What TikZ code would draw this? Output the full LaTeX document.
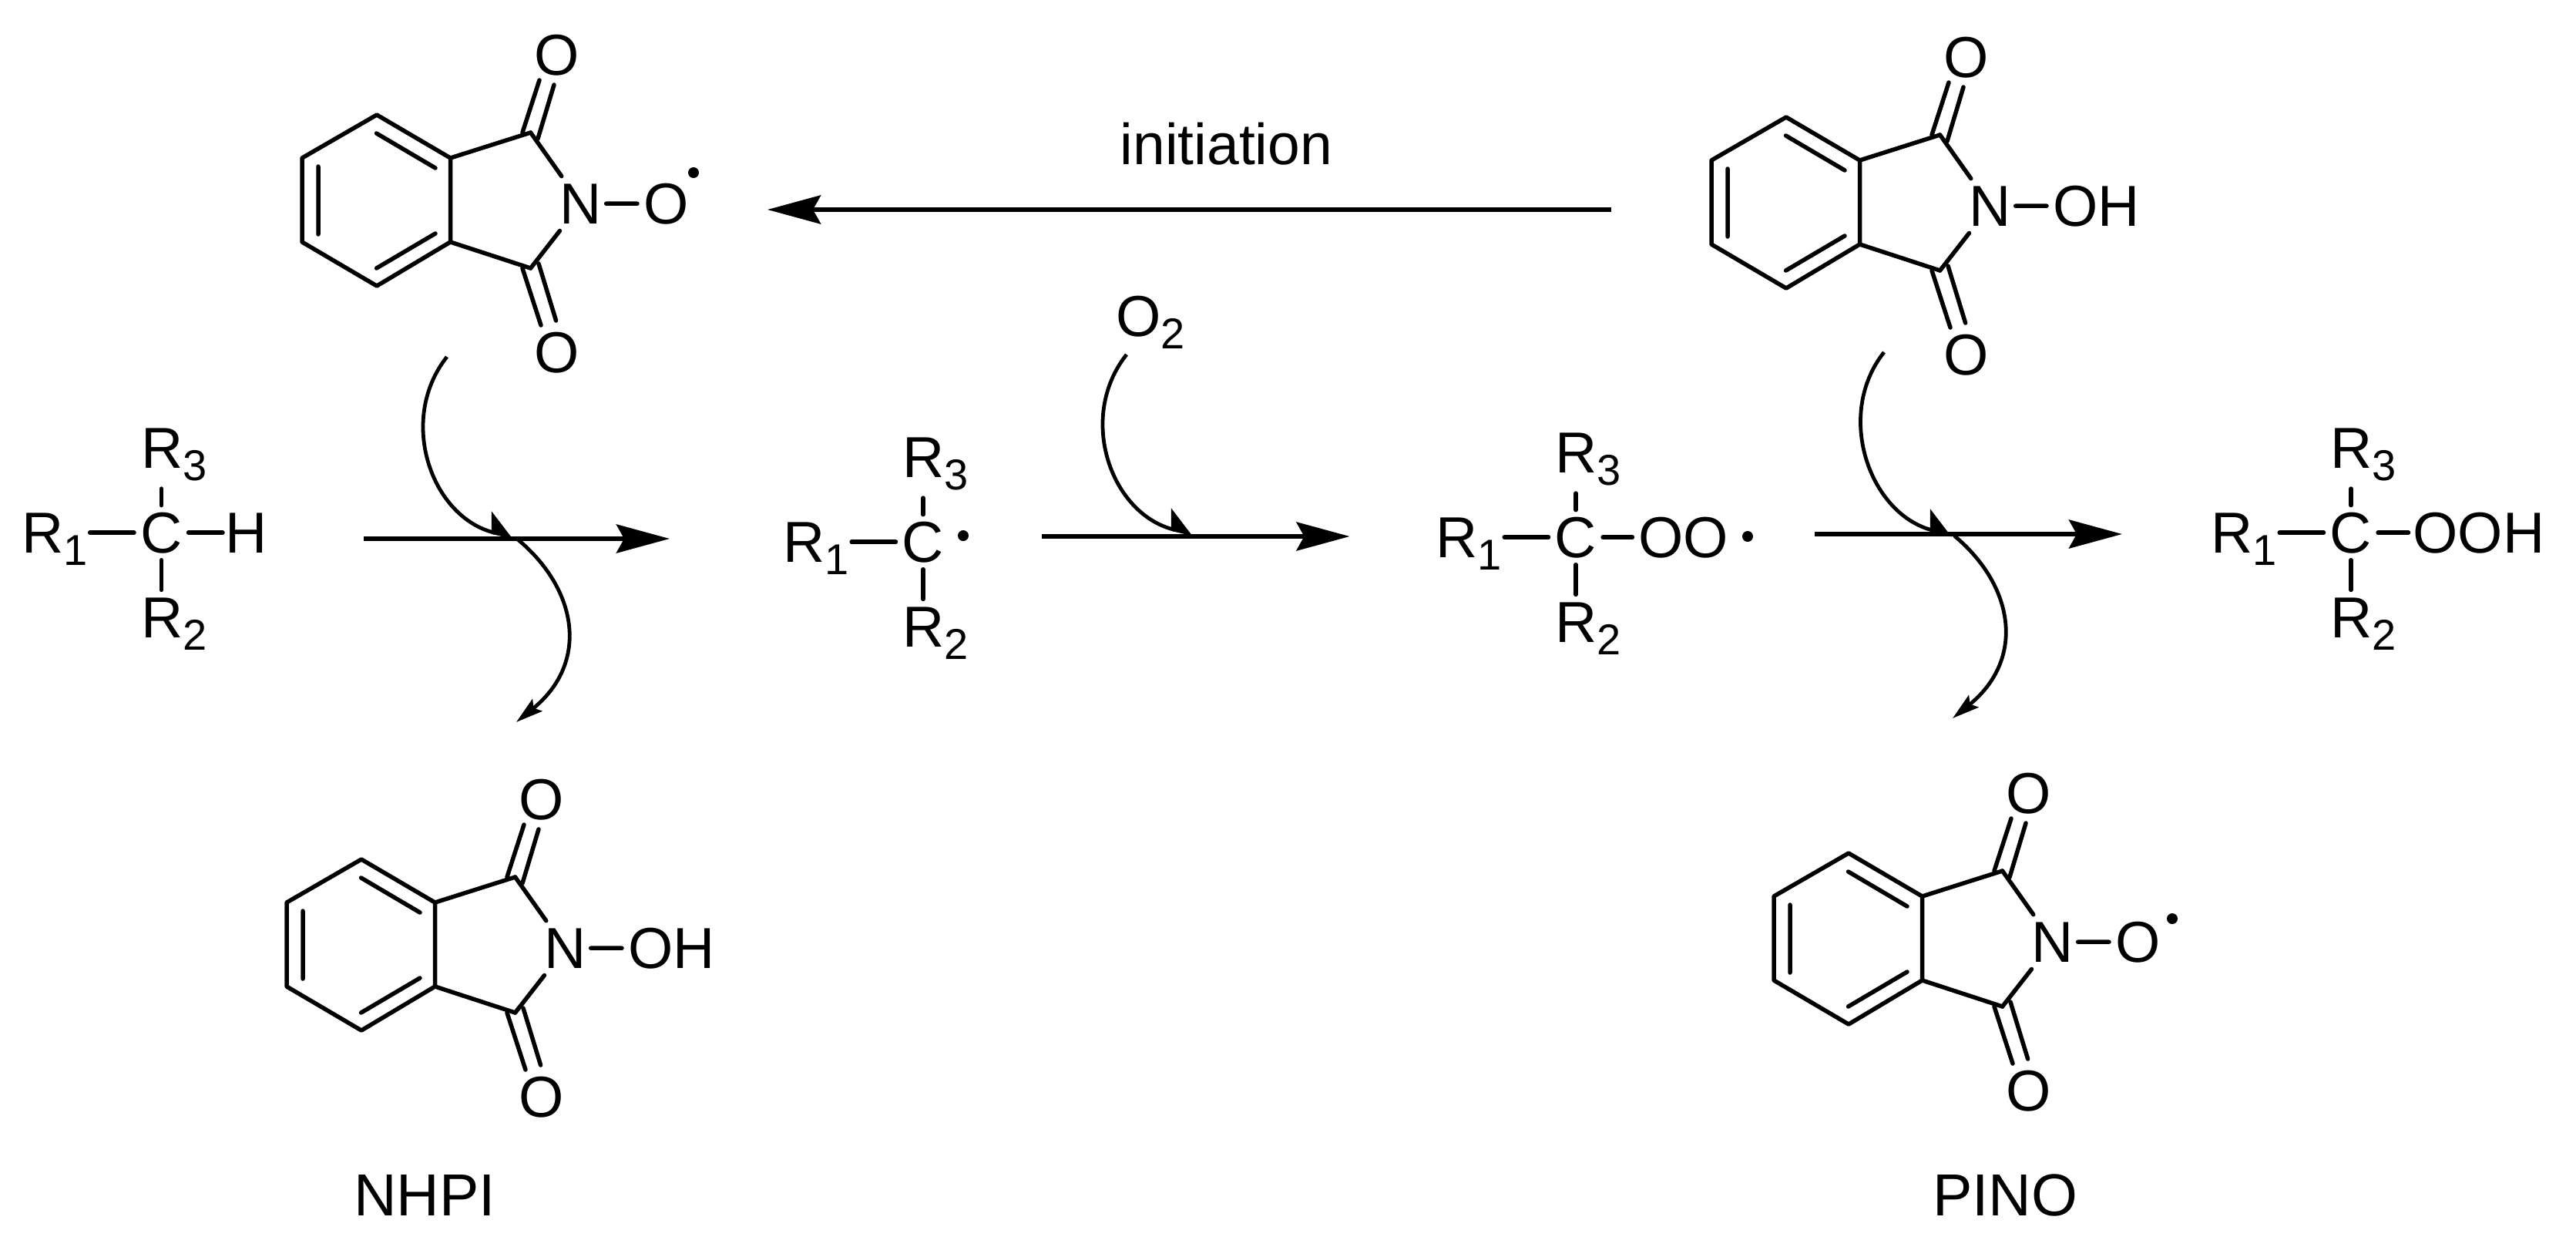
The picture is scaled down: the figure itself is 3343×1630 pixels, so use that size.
\documentclass[tikz,border=0pt]{standalone}
\usepackage{fontspec}
\setmainfont{Liberation Sans}
\usetikzlibrary{arrows.meta}
\newcommand{\lowsub}[1]{{\fontsize{28}{30}\selectfont\raisebox{-8.25pt}{#1}}}
\tikzset{
  x=0.5pt,y=-0.5pt,
  bond/.style={line width=2.75pt,line cap=round,line join=round},
  atom/.style={inner sep=0pt,outer sep=0pt,font=\fontsize{37.5}{40}\selectfont},
  caption/.style={inner sep=0pt,outer sep=0pt,font=\fontsize{38.5}{40}\selectfont},
  rdot/.style={circle,fill=black,inner sep=0pt,minimum size=7pt},
  reaction/.style={line width=3pt,-{Stealth[length=34.5pt,width=18.5pt,inset=5pt]}},
  halfin/.style={line width=2.4pt,-{Stealth[harpoon,length=16pt,width=26pt,inset=3pt]}},
  fullout/.style={line width=2.4pt,-{Stealth[length=17.5pt,width=10pt,inset=3pt]}},
  imide/.pic={
    \coordinate (v1) at (489,149);
    \coordinate (v2) at (392,205);
    \coordinate (v3) at (392,314);
    \coordinate (v4) at (489,371);
    \coordinate (v5) at (584.5,314);
    \coordinate (v6) at (584.5,205);
    \coordinate (cu) at (688.6,172);
    \coordinate (cl) at (688.6,348);
    \coordinate (i1a) at (488.6,173); \coordinate (i1b) at (565,218);
    \coordinate (i2a) at (413,216);   \coordinate (i2b) at (413,304);
    \coordinate (i3a) at (488.6,348); \coordinate (i3b) at (565,303);
    \coordinate (u1a) at (678,172);   \coordinate (u1b) at (700,104);
    \coordinate (u2a) at (698,180);   \coordinate (u2b) at (719,110);
    \coordinate (l1a) at (678,348);   \coordinate (l1b) at (702,422);
    \coordinate (l2a) at (699,342);   \coordinate (l2b) at (721.6,416);
    \node[atom,anchor=base] (n) at (754,290) {N};
    \node[atom,anchor=base] (ot) at (722.4,97) {O};
    \node[atom,anchor=base] (ob) at (722.4,483) {O};
    \draw[bond] (v1)--(v2)--(v3)--(v4)--(v5)--(v6)--cycle;
    \draw[bond] (v6)--(cu) (v5)--(cl);
    \draw[bond] (i1a)--(i1b) (i2a)--(i2b) (i3a)--(i3b);
    \draw[bond] (u1a)--(u1b) (u2a)--(u2b) (l1a)--(l1b) (l2a)--(l2b);
    \draw[bond,shorten >=6pt] (cu)--(n);
    \draw[bond,shorten >=6pt] (cl)--(n);
  },
  rcore/.pic={
    \node[atom,anchor=base] (c) at (0,0) {C};
    \node[atom,anchor=base west] (r1) at (-181.5,0) {R\lowsub{1}};
    \node[atom,anchor=base west] (r3) at (-26.5,-110) {R\lowsub{3}};
    \node[atom,anchor=base west] (r2) at (-26.5,110) {R\lowsub{2}};
    \draw[bond,yshift=1pt,shorten <=1.7pt,shorten >=4.2pt] (r1.east |- c.west) -- (c.west);
    \draw[bond,shorten <=4.5pt,shorten >=5pt] (c.north) -- (c.north |- r3.south);
    \draw[bond,shorten <=4.5pt,shorten >=5pt] (c.south) -- (c.south |- r2.north);
  }
}
\begin{document}
\begin{tikzpicture}
\fill[white] (0,0) rectangle (3343,1630);
\useasboundingbox (0,0) rectangle (3343,1630);

% imide molecules
\pic (ma-) at (0,0) {imide};
\node[atom,anchor=base west] (ma-o) at (835,290) {O};
\node[rdot] (ma-d) at (900,224) {};
\draw[bond,yshift=1.5pt,shorten <=2.8pt,shorten >=4pt] (ma-n.east) -- (ma-o.west);

\pic (mb-) at (1829,3) {imide};
\node[atom,anchor=base west] (mb-o) at (2664,293) {OH};
\draw[bond,yshift=1.5pt,shorten <=2.8pt,shorten >=4pt] (mb-n.east) -- (mb-o.west);

\pic (mc-) at (-20,966) {imide};
\node[atom,anchor=base west] (mc-o) at (815,1256) {OH};
\draw[bond,yshift=1.5pt,shorten <=2.8pt,shorten >=4pt] (mc-n.east) -- (mc-o.west);

\pic (md-) at (1910,958) {imide};
\node[atom,anchor=base west] (md-o) at (2745,1248) {O};
\node[rdot] (md-d) at (2819,1192) {};
\draw[bond,yshift=1.5pt,shorten <=2.8pt,shorten >=4pt] (md-n.east) -- (md-o.west);

% R3C fragments
\pic (fa-) at (209.5,717) {rcore};
\node[atom,anchor=base west] (fa-h) at (292,717) {H};
\draw[bond,yshift=1pt,shorten <=4pt,shorten >=1.5pt] (fa-c.east) -- (fa-c.east -| fa-h.west);

\pic (fb-) at (1198,729) {rcore};
\node[rdot] (fb-d) at (1250,695) {};

\pic (fc-) at (2045,723) {rcore};
\node[atom,anchor=base west] (fc-o) at (2126.4,723) {OO};
\node[rdot] (fc-d) at (2268,696) {};
\draw[bond,yshift=1pt,shorten <=4pt,shorten >=4pt] (fc-c.east) -- (fc-c.east -| fc-o.west);

\pic (fd-) at (3051,717) {rcore};
\node[atom,anchor=base west] (fd-o) at (3131.5,717) {OOH};
\draw[bond,yshift=1pt,shorten <=4pt,shorten >=3pt] (fd-c.east) -- (fd-c.east -| fd-o.west);

% labels
\node[atom,anchor=base] (init) at (1591.5,213) {initiation};
\node[atom,anchor=base west] (o2) at (1448,436) {O\lowsub{2}};
\node[caption,anchor=base west] (nhpi) at (459,1577) {NHPI};
\node[caption,anchor=base west] (pino) at (2508,1577) {PINO};

% free ends of arrows
\coordinate (i0) at (2091,272);  \coordinate (i1) at (996,272);
\coordinate (a0) at (472,699);   \coordinate (a1) at (869,699);
\coordinate (b0) at (1352,696);  \coordinate (b1) at (1751.5,696);
\coordinate (c0) at (2355,693);  \coordinate (c1) at (2754,693);
\coordinate (p0) at (580,463);   \coordinate (p1) at (666,697);
\coordinate (q0) at (1462,460);  \coordinate (q1) at (1548,693);
\coordinate (s0) at (2445,457);  \coordinate (s1) at (2533,694);
\coordinate (t0) at (672,700);   \coordinate (t1) at (670,937);
\coordinate (w0) at (2536,695);  \coordinate (w1) at (2534,932);

\draw[reaction] (i0) -- (i1);
\draw[reaction] (a0) -- (a1);
\draw[reaction] (b0) -- (b1);
\draw[reaction] (c0) -- (c1);

\draw[halfin] (p0) .. controls (515,545) and (560,672) .. (p1);
\draw[halfin] (q0) .. controls (1397,542) and (1442,668) .. (q1);
\draw[halfin] (s0) .. controls (2380,539) and (2427,669) .. (s1);
\draw[fullout] (t0) .. controls (750,765) and (765,860) .. (t1);
\draw[fullout] (w0) .. controls (2614,760) and (2629,855) .. (w1);
\end{tikzpicture}
\end{document}
